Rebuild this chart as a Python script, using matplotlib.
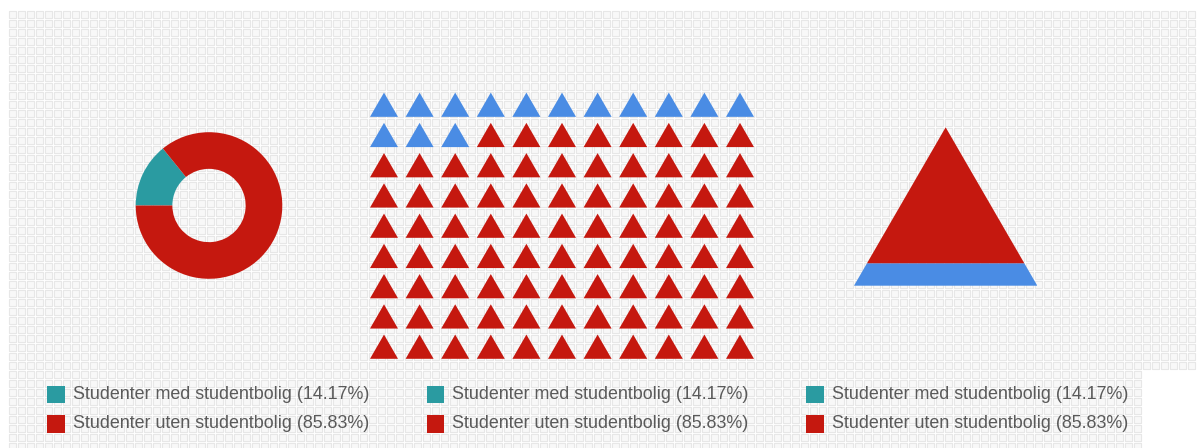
import numpy as np
import matplotlib.pyplot as plt
from matplotlib.patches import Rectangle

# data
labels = ["Studenter med studentbolig", "Studenter uten studentbolig"]
shares = [14.17, 85.83]
legend_colors = ["#2a9ba1", "#c5180f"]
shape_colors = ["#4a8ce4", "#c5180f"]
n_cols, n_rows = 11, 9

plt.rcParams['font.family'] = ['Liberation Sans', 'DejaVu Sans']

W, H = 1197, 448
fig = plt.figure(figsize=(W / 100, H / 100), dpi=100)
fig.patch.set_facecolor('white')

# patterned background, in pixel coordinates
bg = fig.add_axes([0, 0, 1, 1])
bg.set_xlim(0, W)
bg.set_ylim(H, 0)
bg.axis('off')
gx, gy = np.meshgrid(np.arange(11.5, W, 9), np.arange(14.5, H, 9))
keep = (gy < 370) | (gx < 1143)
bg.scatter(gx[keep], gy[keep], marker='s', s=(7 * 0.72) ** 2,
           facecolor='#f8f8f8', edgecolor='#e7e7e7', linewidths=0.8)

# donut
ax1 = fig.add_axes([135.7 / W, 1 - 278.8 / H, 146.6 / W, 146.6 / H])
ax1.pie(shares, colors=legend_colors, startangle=180, counterclock=False,
        radius=1, wedgeprops=dict(width=0.5, linewidth=0))
ax1.set_xlim(-1, 1)
ax1.set_ylim(-1, 1)
ax1.axis('off')

# waffle of triangles
ax2 = fig.add_axes([366.2 / W, 1 - 361.8 / H, (757.8 - 366.2) / W, (361.8 - 89.6) / H])
n_cells = n_cols * n_rows
n_med = round(shares[0] / 100 * n_cells)
idx = np.arange(n_cells)
cell_colors = [shape_colors[0] if i < n_med else shape_colors[1] for i in idx]
tri = [(-1, -0.866), (1, -0.866), (0, 0.866)]
ax2.scatter(idx % n_cols, idx // n_cols, marker=tri, s=(28 * 0.72) ** 2,
            c=cell_colors, linewidths=0)
ax2.set_xlim(-0.5, n_cols - 0.5)
ax2.set_ylim(n_rows - 0.5, -0.5)
ax2.axis('off')

# pyramid split by height
ax3 = fig.add_axes([854 / W, 1 - 285.7 / H, (1037.3 - 854) / W, (285.7 - 127.3) / H])
h = shares[0] / 100
ax3.fill([0, 1, 1 - h / 2, h / 2], [0, 0, h, h], color=shape_colors[0], lw=0)
ax3.fill([h / 2, 1 - h / 2, 0.5], [h, h, 1], color=shape_colors[1], lw=0)
ax3.set_xlim(0, 1)
ax3.set_ylim(0, 1)
ax3.axis('off')

# legends (one under each chart)
legend_x = [47.3, 426.8, 806.3]
legend_y = [394.7, 424]
for lx in legend_x:
    for label, share, col, ly in zip(labels, shares, legend_colors, legend_y):
        bg.add_patch(Rectangle((lx, ly - 8.7), 17.5, 17.5, color=col, lw=0))
        bg.text(lx + 25.4, ly, f"{label} ({share:.2f}%)", va='center', ha='left',
                fontsize=12.9, color='#5a5a5a')

fig.savefig('out.png', dpi=100)
